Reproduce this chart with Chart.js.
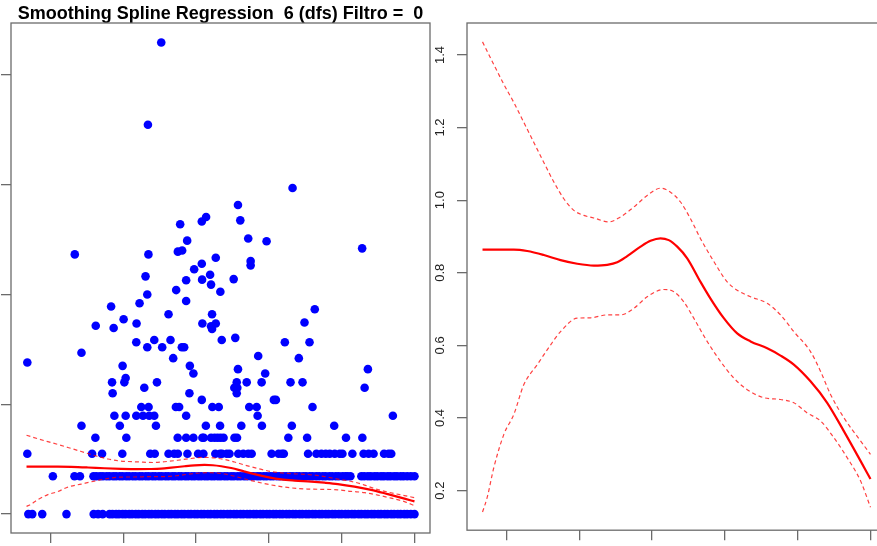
<!DOCTYPE html>
<html lang="es">
<head>
    <meta charset="UTF-8">
    <title>Smoothing Spline Regression</title>
    <script src="https://cdn.jsdelivr.net/npm/chart.js"></script>
    <style>
        html, body { margin: 0; padding: 0; background: #fff; overflow: hidden; }
        body { width: 877px; height: 546px; position: relative; }
        #scatterChart { position: absolute; left: 0; top: 0; }
        #fitChart { position: absolute; left: 420px; top: 0; }
    </style>
</head>
<body>
    <canvas id="scatterChart" width="441" height="546"></canvas>
    <canvas id="fitChart" width="480" height="546"></canvas>

    <script>
        // axis ticks
        const xTicks = [10, 20, 30, 40, 50, 60];
        const scatterTicks = [0, 2, 4, 6, 8];
        const fitTicks = [0.2, 0.4, 0.6, 0.8, 1.0, 1.2, 1.4];

        // observations sitting on the repeated levels (log of counts)
        const rowLevels = [0, 0.69, 1.10, 1.39, 1.61, 1.79, 1.95];
        const row0X = [6.95, 7.49, 8.86, 12.19, 15.93, 16.53, 17.16,
            18.1, 18.5, 19.0, 19.4, 19.9, 20.3, 20.8, 21.2, 21.7, 22.1, 22.6, 23.0, 23.5, 23.9, 24.4, 24.8,
            25.3, 25.7, 26.2, 26.6, 27.1, 27.5, 28.0, 28.4, 28.9, 29.3, 29.8, 30.2, 30.7, 31.1, 31.6, 32.0,
            32.5, 32.9, 33.4, 33.8, 34.3, 34.7, 35.2, 35.6, 36.1, 36.5, 37.0, 37.4, 37.9, 38.3, 38.8, 39.2,
            39.7, 40.1, 40.6, 41.0, 41.5, 41.9, 42.4, 42.8, 43.3, 43.7, 44.2, 44.6, 45.1, 45.5, 46.0, 46.4,
            46.9, 47.3, 47.8, 48.2, 48.7, 49.1, 49.6, 50.0, 50.5, 50.9, 51.4, 51.8, 52.3, 52.7, 53.2, 53.6,
            54.1, 54.5, 55.0, 55.4, 55.9, 56.3, 56.8, 57.2, 57.7, 58.1, 58.6, 59.0, 59.5, 60.0];
        const row1X = [10.32, 13.29, 14.04,
            15.9, 16.3, 16.8, 17.2, 17.7, 18.1, 18.6, 19.0, 19.5, 19.9, 20.4, 20.8, 21.3, 21.7, 22.2, 22.6,
            23.1, 23.5, 24.0, 24.4, 24.9, 25.3, 25.8, 26.2, 26.7, 27.1, 27.6, 28.0, 28.5, 28.9, 29.4, 29.8,
            30.3, 30.7, 31.2, 31.6, 32.1, 32.5, 33.0, 33.4, 33.9, 34.3, 34.8, 35.2, 35.7, 36.1, 36.6, 37.0,
            37.5, 37.9, 38.4, 38.8, 39.3, 39.7, 40.2, 40.6, 41.1, 41.5, 42.0, 42.4, 42.9, 43.3, 43.8, 44.2,
            44.7, 45.1, 45.6, 46.0, 46.5, 46.9, 47.4, 47.8, 48.3, 48.7, 49.2, 49.6, 50.1, 50.5, 50.8, 51.2,
            52.7, 53.1, 53.6, 54.0, 54.5, 54.9, 55.4, 55.8, 56.3, 56.7, 57.2, 57.6, 58.1, 58.5, 59.0, 59.5, 60.0];
        const row2X = [6.81, 15.71, 17.08, 19.86, 23.70, 24.32, 26.21, 26.99, 27.49, 28.81, 30.27, 31.0,
            32.64, 33.29, 33.56, 34.21, 34.59, 35.79, 36.48, 37.16, 37.63, 40.37, 41.33, 41.78, 42.05, 45.38,
            46.53, 47.22, 47.81, 48.36, 49.04, 49.73, 50.10, 51.47, 53.01, 53.70, 54.38, 55.82, 56.44, 56.81];
        const row3X = [16.16, 20.41, 27.47, 28.63, 29.63, 30.86, 31.05, 32.05, 32.53, 32.95, 33.36, 33.77,
            35.27, 35.62, 42.67, 45.25, 50.59, 52.84];
        const row4X = [14.25, 19.52, 24.48, 31.34, 33.29, 36.21, 39.04, 43.15, 48.97];
        const row5X = [18.77, 20.32, 21.78, 22.70, 23.56, 24.25, 28.63, 38.45, 57.03];
        const row6X = [22.47, 23.47, 27.22, 27.67, 32.23, 33.11, 37.30, 38.32, 45.99];
        const rows = [row0X, row1X, row2X, row3X, row4X, row5X, row6X];

        // the remaining, more spread out observations
        const ptX = [25.21, 23.38, 43.25, 35.75, 31.37, 30.78, 36.07, 27.81, 28.77, 37.16, 39.68, 52.81,
            28.08, 27.49, 13.33, 23.45, 32.70, 37.49, 37.49, 30.78, 29.73, 31.92, 23.05, 28.63, 30.82, 35.16,
            32.05, 27.26, 33.33, 23.29, 22.23, 28.63, 18.32, 46.30, 26.21, 32.19, 20.04, 44.89, 16.21, 18.67,
            21.82, 30.86, 32.05, 32.70, 32.19, 24.25, 26.48, 21.78, 23.29, 25.34, 28.04, 28.36, 33.52, 35.38,
            42.19, 45.58, 14.25, 26.85, 38.53, 44.11, 6.81, 19.90, 29.14, 35.75, 53.60, 20.32, 20.14, 29.63,
            39.49, 18.45, 24.62, 35.58, 35.25, 35.66, 35.58, 36.95, 39.00, 42.97, 44.62, 53.15, 18.53, 22.88,
            29.08, 40.68, 40.96, 30.78];
        const ptY = [8.59, 7.09, 5.94, 5.63, 5.41, 5.33, 5.35, 5.28, 4.98, 5.02, 4.97, 4.84,
            4.80, 4.78, 4.73, 4.73, 4.67, 4.61, 4.53, 4.56, 4.46, 4.36, 4.33, 4.26, 4.27, 4.28,
            4.18, 4.08, 4.05, 4.00, 3.84, 3.88, 3.78, 3.73, 3.64, 3.64, 3.55, 3.49, 3.43, 3.39,
            3.47, 3.47, 3.42, 3.47, 3.37, 3.17, 3.17, 3.13, 3.04, 3.04, 3.04, 3.04, 3.17, 3.21,
            3.13, 3.13, 2.94, 2.84, 2.88, 2.84, 2.76, 2.70, 2.70, 2.64, 2.64, 2.48, 2.40, 2.56,
            2.56, 2.40, 2.40, 2.40, 2.30, 2.30, 2.20, 2.40, 2.40, 2.40, 2.40, 2.30, 2.20, 2.30,
            2.20, 2.08, 2.08, 2.08];

        // fitted spline and its band
        const fitX = [6.7, 11.0, 12.84, 15.12, 17.42, 19.71, 21.99, 23.83, 25.21, 26.58, 28.41, 29.78, 31.15,
            32.29, 33.45, 34.82, 36.65, 38.02, 39.85, 41.69, 43.52, 45.81, 47.64, 49.47, 51.76, 54.05, 56.34,
            58.63, 60.0];
        const fitY = [0.864, 0.864, 0.860, 0.849, 0.835, 0.825, 0.820, 0.822, 0.829, 0.846, 0.872, 0.888, 0.895,
            0.890, 0.872, 0.840, 0.775, 0.729, 0.675, 0.633, 0.611, 0.592, 0.572, 0.547, 0.501, 0.442, 0.364,
            0.282, 0.232];
        const upX = [6.7, 8.26, 9.63, 11.0, 12.38, 13.75, 15.12, 16.5, 17.87, 19.24, 20.62, 21.99, 24.05, 25.66,
            27.49, 29.32, 31.15, 32.53, 33.9, 35.27, 36.65, 38.48, 40.31, 41.69, 43.52, 45.81, 47.64, 49.47,
            51.76, 53.13, 54.51, 56.34, 58.63, 60.0];
        const upY = [1.436, 1.373, 1.319, 1.269, 1.214, 1.159, 1.104, 1.050, 1.004, 0.972, 0.958, 0.951, 0.940,
            0.954, 0.981, 1.013, 1.033, 1.022, 0.995, 0.949, 0.894, 0.831, 0.775, 0.752, 0.734, 0.716, 0.684,
            0.638, 0.583, 0.529, 0.465, 0.401, 0.337, 0.300];
        const loX = [6.7, 7.35, 8.26, 9.63, 11.0, 12.38, 14.22, 16.04, 17.42, 19.71, 21.54, 23.83, 25.66, 27.49,
            29.32, 31.6, 32.98, 34.35, 35.72, 37.56, 39.4, 41.23, 43.06, 45.35, 47.64, 49.47, 51.3, 53.13,
            54.96, 56.79, 58.63, 60.0];
        const loY = [0.141, 0.182, 0.264, 0.355, 0.410, 0.492, 0.547, 0.601, 0.638, 0.675, 0.676, 0.684, 0.684,
            0.702, 0.734, 0.754, 0.748, 0.720, 0.675, 0.611, 0.556, 0.510, 0.478, 0.456, 0.451, 0.442, 0.414,
            0.392, 0.346, 0.291, 0.227, 0.154];

        const frameColor = '#6b6b6b';
        const fontFamily = '"Liberation Sans", Arial, Helvetica, sans-serif';

        const pairs = (xs, ys) => xs.map((x, i) => ({ x: x, y: ys[i] }));

        const points = [];
        rows.forEach((xs, r) => xs.forEach(x => points.push({ x: x, y: rowLevels[r] })));
        points.push(...pairs(ptX, ptY));

        // box around the plotting region
        const framePlugin = {
            id: 'frame',
            afterDraw(chart) {
                const { ctx, chartArea: a } = chart;
                ctx.save();
                ctx.strokeStyle = frameColor;
                ctx.lineWidth = 1.3;
                ctx.strokeRect(a.left, a.top, a.right - a.left, a.bottom - a.top);
                ctx.restore();
            }
        };

        function tickAxis(min, max, values, fitSize, isX) {
            return {
                type: 'linear',
                min: min,
                max: max,
                afterBuildTicks: s => { s.ticks = values.map(v => ({ value: v })); },
                afterFit: s => { if (isX) s.height = fitSize; else s.width = fitSize; },
                grid: { drawOnChartArea: false, drawTicks: true, tickLength: 10, color: frameColor, lineWidth: 1.3 },
                border: { display: false },
                ticks: { display: false }
            };
        }

        function curveSets() {
            const base = { type: 'line', showLine: true, pointRadius: 0, fill: false, cubicInterpolationMode: 'monotone' };
            return [
                Object.assign({}, base, { data: pairs(fitX, fitY), borderColor: '#ff0000', borderWidth: 2.2 }),
                Object.assign({}, base, { data: pairs(upX, upY), borderColor: 'rgba(255,0,0,0.75)', borderWidth: 1.2, borderDash: [4, 3] }),
                Object.assign({}, base, { data: pairs(loX, loY), borderColor: 'rgba(255,0,0,0.75)', borderWidth: 1.2, borderDash: [4, 3] })
            ];
        }

        // left: observations with the fitted curve on top
        new Chart(document.getElementById('scatterChart'), {
            type: 'scatter',
            data: {
                datasets: curveSets().concat([{
                    data: points,
                    pointRadius: 4.3,
                    pointBackgroundColor: '#0000ff',
                    pointBorderWidth: 0,
                    showLine: false
                }])
            },
            options: {
                responsive: false,
                animation: false,
                events: [],
                layout: { padding: { left: 0, right: 11, top: 0, bottom: 0 } },
                plugins: {
                    legend: { display: false },
                    tooltip: { enabled: false },
                    title: {
                        display: true,
                        fullSize: false,
                        text: 'Smoothing Spline Regression  6 (dfs) Filtro =  0',
                        color: '#000',
                        font: { family: fontFamily, size: 18, weight: 'bold', lineHeight: 1 },
                        padding: { top: 5, bottom: 0 }
                    }
                },
                scales: {
                    x: tickAxis(4.568, 62.132, xTicks, 13, true),
                    y: tickAxis(-0.344, 8.944, scatterTicks, 11, false)
                }
            },
            plugins: [framePlugin]
        });

        // right: fitted curve alone
        const fitY_axis = tickAxis(0.091, 1.488, fitTicks, 47, false);
        fitY_axis.ticks = {
            display: true,
            minRotation: 90,
            maxRotation: 90,
            crossAlign: 'center',
            padding: 8,
            color: '#222',
            font: { family: fontFamily, size: 13 },
            callback: v => Number(v).toFixed(1)
        };

        new Chart(document.getElementById('fitChart'), {
            type: 'scatter',
            data: { datasets: curveSets() },
            options: {
                responsive: false,
                animation: false,
                events: [],
                layout: { padding: { left: 0, right: 14, top: 23, bottom: 0 } },
                plugins: { legend: { display: false }, tooltip: { enabled: false } },
                scales: {
                    x: tickAxis(4.568, 62.132, xTicks, 13, true),
                    y: fitY_axis
                }
            },
            plugins: [framePlugin]
        });
    </script>
</body>
</html>
